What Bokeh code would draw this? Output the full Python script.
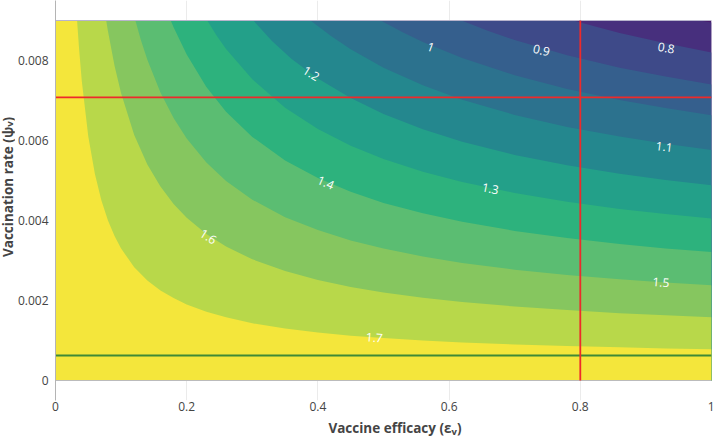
from bokeh.plotting import figure
from bokeh.models import ColumnDataSource, FixedTicker, Range1d, Div
from bokeh.layouts import row, column
from bokeh.embed import file_html
from bokeh.resources import INLINE
from bokeh.core.properties import value

# ---------------- data ----------------
EPS_DOMAIN = [0.0, 1.0]          # vaccine efficacy range of the computed grid
PSI_DOMAIN = [0.0, 0.009]        # vaccination rate range of the computed grid

CONTOUR_LEVELS = [0.7, 0.8, 0.9, 1.0, 1.1, 1.2, 1.3, 1.4, 1.5, 1.6, 1.7]

# contour lines, each from the top edge to the right edge: (eps, psi) points
C07_EPS = [0.982, 1.0]
C07_PSI = [0.0090, 0.00895]
C08_EPS = [0.7895, 0.82, 0.86, 0.93, 1.0]
C08_PSI = [0.0090, 0.00886, 0.00869, 0.00843, 0.0082]
C09_EPS = [0.619, 0.66, 0.70, 0.78, 0.86, 0.93, 1.0]
C09_PSI = [0.0090, 0.00874, 0.00851, 0.00813, 0.00782, 0.0076, 0.0074]
C10_EPS = [0.4957, 0.53, 0.56, 0.62, 0.70, 0.78, 0.86, 0.93, 1.0]
C10_PSI = [0.0090, 0.0087, 0.00846, 0.00806, 0.00763, 0.00729, 0.00701, 0.00681, 0.00663]
C11_EPS = [0.3887, 0.42, 0.45, 0.50, 0.56, 0.62, 0.70, 0.78, 0.86, 0.93, 1.0]
C11_PSI = [0.0090, 0.00861, 0.00828, 0.00782, 0.00738, 0.00702, 0.00664, 0.00634, 0.0061, 0.00592, 0.00576]
C12_EPS = [0.3017, 0.33, 0.36, 0.40, 0.45, 0.50, 0.56, 0.62, 0.70, 0.78, 0.86, 0.93, 1.0]
C12_PSI = [0.0090, 0.00849, 0.00804, 0.00755, 0.00706, 0.00666, 0.00628, 0.00597, 0.00564, 0.00538, 0.00517, 0.00501, 0.00488]
C13_EPS = [0.2314, 0.245, 0.26, 0.30, 0.35, 0.40, 0.45, 0.50, 0.56, 0.62, 0.70, 0.78, 0.86, 0.93, 1.0]
C13_PSI = [0.0090, 0.00864, 0.00829, 0.00753, 0.00682, 0.00629, 0.00587, 0.00554, 0.00522, 0.00496, 0.00469, 0.00447, 0.00429, 0.00416, 0.00405]
C14_EPS = [0.1757, 0.18, 0.20, 0.23, 0.26, 0.30, 0.35, 0.40, 0.45, 0.50, 0.56, 0.62, 0.70, 0.78, 0.86, 0.93, 1.0]
C14_PSI = [0.0090, 0.00883, 0.00815, 0.00734, 0.00672, 0.00609, 0.0055, 0.00506, 0.00472, 0.00444, 0.00418, 0.00397, 0.00374, 0.00356, 0.00341, 0.0033, 0.00321]
C15_EPS = [0.1218, 0.13, 0.14, 0.16, 0.18, 0.20, 0.23, 0.26, 0.30, 0.35, 0.40, 0.45, 0.50, 0.56, 0.62, 0.70, 0.78, 0.86, 0.93, 1.0]
C15_PSI = [0.0090, 0.00852, 0.00802, 0.0072, 0.00656, 0.00605, 0.00545, 0.00499, 0.00452, 0.00408, 0.00376, 0.0035, 0.0033, 0.0031, 0.00294, 0.00277, 0.00264, 0.00253, 0.00245, 0.00238]
C16_EPS = [0.0773, 0.08, 0.09, 0.10, 0.12, 0.14, 0.16, 0.18, 0.20, 0.23, 0.26, 0.30, 0.35, 0.40, 0.45, 0.50, 0.56, 0.62, 0.70, 0.78, 0.86, 0.93, 1.0]
C16_PSI = [0.0090, 0.00873, 0.00787, 0.00718, 0.00614, 0.0054, 0.00485, 0.00441, 0.00407, 0.00366, 0.00335, 0.00303, 0.00274, 0.00251, 0.00234, 0.0022, 0.00207, 0.00196, 0.00185, 0.00176, 0.00168, 0.00163, 0.00158]
C17_EPS = [0.0329, 0.036, 0.04, 0.05, 0.06, 0.07, 0.08, 0.09, 0.10, 0.12, 0.14, 0.16, 0.18, 0.20, 0.23, 0.26, 0.30, 0.35, 0.40, 0.45, 0.50, 0.56, 0.62, 0.70, 0.78, 0.86, 0.93, 1.0]
C17_PSI = [0.0090, 0.00828, 0.0075, 0.0061, 0.00517, 0.0045, 0.0040, 0.00361, 0.0033, 0.00283, 0.0025, 0.00225, 0.00206, 0.0019, 0.00172, 0.00158, 0.00143, 0.0013, 0.0012, 0.00112, 0.00106, 0.0010, 0.00095, 0.0009, 0.00086, 0.00083, 0.0008, 0.00078]

# band colours: below the lowest level, then the band above each level
BAND_BELOW = "#481a6c"
BAND_COLORS = ["#472f7d", "#3e4a89", "#355f8d", "#2c728e", "#24878e",
               "#23a089", "#2db27d", "#5bbd72", "#86c65f", "#b8d84a", "#f4e63b"]

# contour labels
LABEL_TEXT = ["0.8", "0.9", "1", "1.2", "1.1", "1.4", "1.3", "1.6", "1.5", "1.7"]
LABEL_EPS = [0.931, 0.741, 0.572, 0.390, 0.928, 0.412, 0.663, 0.233, 0.923, 0.486]
LABEL_PSI = [0.00832, 0.00826, 0.00834, 0.00768, 0.00585, 0.00495, 0.00480, 0.00360, 0.00246, 0.00108]
LABEL_ANGLE = [-9, -13, -20, -32, -7, -23, -11, -32, -4, -4]

# reference lines
REF_EPS = 0.8
REF_PSI_RED = 0.00708
REF_PSI_GREEN = 0.000625

X_TICKS = [0.0, 0.2, 0.4, 0.6, 0.8, 1.0]
X_TICK_LABELS = ["0", "0.2", "0.4", "0.6", "0.8", "1"]
Y_TICKS = [0.0, 0.002, 0.004, 0.006, 0.008]
Y_TICK_LABELS = ["0", "0.002", "0.004", "0.006", "0.008"]

X_TITLE = ("Vaccine efficacy (\u03b5", "v", ")")
Y_TITLE = ("Vaccination rate (\u03c8", "v", ")")

# ---------------- figure ----------------
p = figure(width=700, height=420, output_backend="svg", toolbar_location=None,
           x_range=Range1d(0, 1), y_range=Range1d(-0.0005, 0.0095),
           min_border_left=38, min_border_right=3, min_border_top=0,
           min_border_bottom=20)
p.outline_line_color = None
p.background_fill_color = "white"
p.border_fill_color = "white"

contour_eps = [C07_EPS, C08_EPS, C09_EPS, C10_EPS, C11_EPS, C12_EPS,
               C13_EPS, C14_EPS, C15_EPS, C16_EPS, C17_EPS]
contour_psi = [C07_PSI, C08_PSI, C09_PSI, C10_PSI, C11_PSI, C12_PSI,
               C13_PSI, C14_PSI, C15_PSI, C16_PSI, C17_PSI]

# background: band below the lowest level covers the whole grid
p.quad(left=[EPS_DOMAIN[0]], right=[EPS_DOMAIN[1]], bottom=[PSI_DOMAIN[0]],
       top=[PSI_DOMAIN[1]], fill_color=BAND_BELOW, line_color=None)

xs, ys = [], []
for ce, cp in zip(contour_eps, contour_psi):
    xs.append(list(ce) + [EPS_DOMAIN[1], EPS_DOMAIN[0], EPS_DOMAIN[0]])
    ys.append(list(cp) + [PSI_DOMAIN[0], PSI_DOMAIN[0], PSI_DOMAIN[1]])
band_src = ColumnDataSource(dict(xs=xs, ys=ys, color=BAND_COLORS, level=CONTOUR_LEVELS))
p.patches("xs", "ys", source=band_src, fill_color="color", line_color=None)

# edges of the grid
p.line(EPS_DOMAIN, [PSI_DOMAIN[1], PSI_DOMAIN[1]], line_color="#b8b4cc", line_width=1)
p.line(EPS_DOMAIN, [PSI_DOMAIN[0], PSI_DOMAIN[0]], line_color="#bbbbbb", line_width=1)

# reference lines
p.line(EPS_DOMAIN, [REF_PSI_GREEN, REF_PSI_GREEN], line_color="#3f8a36", line_width=2)
p.line(EPS_DOMAIN, [REF_PSI_RED, REF_PSI_RED], line_color="#ee2a2a", line_width=1.8)
p.line([REF_EPS, REF_EPS], PSI_DOMAIN, line_color="#ee2a2a", line_width=1.8)

lab_src = ColumnDataSource(dict(x=LABEL_EPS, y=LABEL_PSI, text=LABEL_TEXT, angle=LABEL_ANGLE))
p.text("x", "y", text="text", angle="angle", angle_units="deg", source=lab_src,
       text_color="white", text_font=value("Open Sans"), text_font_size="12px",
       text_align="center", text_baseline="middle")

# axes
for ax in (p.xaxis[0], p.yaxis[0]):
    ax.major_tick_line_color = None
    ax.minor_tick_line_color = None
    ax.major_tick_out = 0
    ax.major_tick_in = 0
    ax.major_label_text_font = "Open Sans"
    ax.major_label_text_font_size = "12px"
    ax.major_label_text_color = "#444444"

p.xaxis.ticker = FixedTicker(ticks=X_TICKS)
p.xaxis.major_label_overrides = dict(zip(X_TICKS, X_TICK_LABELS))
p.xaxis.axis_line_color = None
p.xaxis.major_label_standoff = 1

p.yaxis.ticker = FixedTicker(ticks=Y_TICKS)
p.yaxis.major_label_overrides = dict(zip(Y_TICKS, Y_TICK_LABELS))
p.yaxis.axis_line_color = "#b4b4b4"
p.yaxis.major_label_standoff = 7

p.xgrid.ticker = FixedTicker(ticks=X_TICKS)
p.ygrid.ticker = FixedTicker(ticks=Y_TICKS)
p.grid.grid_line_color = "#ebebeb"

# axis titles with a real subscript v (HTML text)
font_css = ("font-family:'Open Sans',sans-serif;font-weight:bold;font-size:13.5px;"
            "color:#444444;line-height:17px;white-space:nowrap;")
sub_css = "font-size:9.5px;vertical-align:-2px;"
x_html = ('<div style="%swidth:638px;margin-left:76px;padding-top:0px;text-align:center;">%s'
          '<span style="%s">%s</span>%s</div>' % (font_css, X_TITLE[0], sub_css, X_TITLE[1], X_TITLE[2]))
y_html = ('<div style="%sheight:374px;width:14px;writing-mode:vertical-rl;'
          'transform:rotate(180deg);text-align:center;">%s'
          '<span style="%s">%s</span>%s</div>' % (font_css, Y_TITLE[0], sub_css, Y_TITLE[1], Y_TITLE[2]))
x_title = Div(text=x_html, width=714, height=20, margin=(0, 0, 0, 0))
y_title = Div(text=y_html, width=14, height=420, margin=(0, 0, 0, 0))

layout = column(row(y_title, p, spacing=0), x_title, spacing=0)

open("out.html", "w").write(file_html(layout, INLINE))
